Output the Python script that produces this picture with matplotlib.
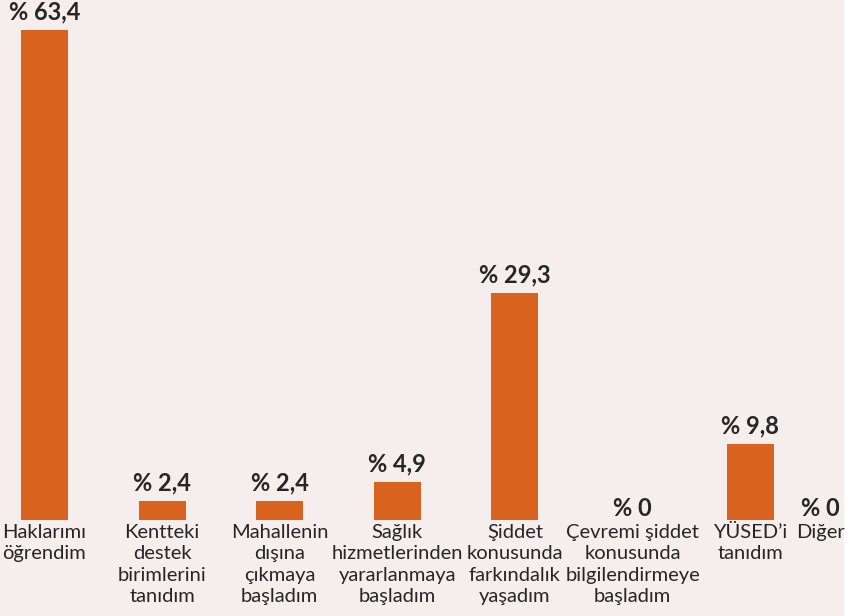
import numpy as np
import matplotlib
matplotlib.use("Agg")
import matplotlib.pyplot as plt

categories = [
    "Haklarımı\nöğrendim",
    "Kentteki\ndestek\nbirimlerini\ntanıdım",
    "Mahallenin\ndışına\nçıkmaya\nbaşladım",
    "Sağlık\nhizmetlerinden\nyararlanmaya\nbaşladım",
    "Şiddet\nkonusunda\nfarkındalık\nyaşadım",
    "Çevremi şiddet\nkonusunda\nbilgilendirmeye\nbaşladım",
    "YÜSED’i\ntanıdım",
    "Diğer",
]
values = [63.4, 2.4, 2.4, 4.9, 29.3, 0.0, 9.8, 0.0]
value_labels = ["% 63,4", "% 2,4", "% 2,4", "% 4,9", "% 29,3", "% 0", "% 9,8", "% 0"]

BAR = "#D9621E"
BG = "#F5EEEC"
TXT = "#262626"
FONT = ["Lato", "DejaVu Sans"]

fig = plt.figure(figsize=(8.54, 6.16), dpi=100, facecolor="white")
ax = fig.add_axes([0, 0, 844 / 854, 1])
ax.set_facecolor(BG)

n = len(values)
pos = np.arange(n, dtype=float)
pos[-1] = pos[-2] + 0.6

ax.bar(pos, values, width=0.40, color=BAR, zorder=2)

vmax = max(values)
ax.set_ylim(-vmax * 0.196, vmax * 1.061)
ax.set_xlim(-0.378, 6.798)

for x, v, lab in zip(pos, values, value_labels):
    ax.annotate(lab, (x, v), xytext=(0, 5 if v > 0 else 0), textcoords="offset points",
                ha="center", va="bottom", fontsize=17, fontweight="bold",
                color=TXT, family=FONT, clip_on=False, annotation_clip=False)

for x, lab in zip(pos, categories):
    ax.annotate(lab, (x, 0), xytext=(0, -3), textcoords="offset points",
                ha="center", va="top", fontsize=14.5, color=TXT, family=FONT,
                linespacing=1.3, annotation_clip=False)

for s in ax.spines.values():
    s.set_visible(False)
ax.set_xticks([])
ax.set_yticks([])

fig.savefig("out.png", dpi=100, facecolor=fig.get_facecolor())
